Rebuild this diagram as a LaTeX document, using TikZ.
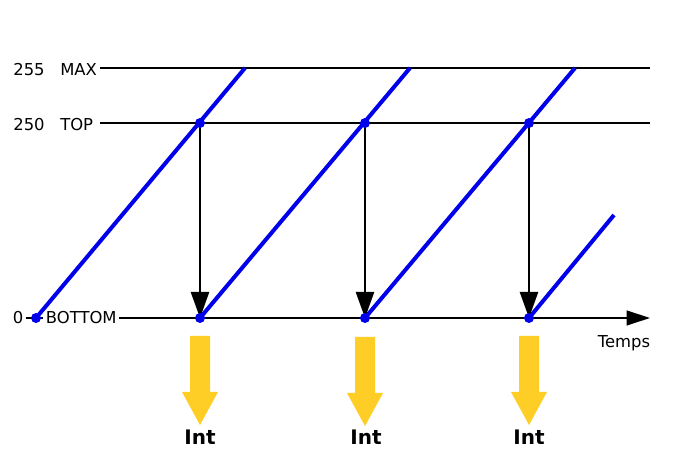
\documentclass[tikz,border=0pt]{standalone}
\usepackage{fontspec}
\setmainfont{DejaVu Sans}
\usetikzlibrary{arrows.meta}
\definecolor{rampblue}{RGB}{0,0,235}
\definecolor{intyellow}{RGB}{255,206,38}
\tikzset{
  lbl/.style={inner sep=0.75pt,font=\fontsize{12.3}{14}\selectfont},
  intlbl/.style={inner sep=0.75pt,font=\fontsize{15}{17}\selectfont\bfseries},
  level/.style={draw=black,line width=1.7pt},
  ramp/.style={draw=rampblue,line width=3pt},
  drop/.style={draw=black,line width=1.8pt,-{Triangle[length=19.5pt,width=13.5pt]}},
  dot/.style={circle,fill=rampblue,inner sep=0pt,minimum size=7.5pt}
}
\begin{document}
\begin{tikzpicture}[x=0.75pt,y=0.75pt,yscale=-1,xscale=1]
\useasboundingbox (0,0) rectangle (700,459);
% niveaux et axe du temps
\coordinate (max0) at (100,68);  \coordinate (max1) at (650,68);
\coordinate (top0) at (100,123); \coordinate (top1) at (650,123);
\coordinate (ax0) at (26,318);   \coordinate (ax1) at (650,318);
\draw [level] (max0) -- (max1);
\draw [level] (top0) -- (top1);
\draw [level,-{Triangle[length=17.5pt,width=11pt]}] (ax0) -- (ax1);
\node [lbl] (v255) at (29,70) {255};
\node [lbl,anchor=west] (lmax) at (59,70) {MAX};
\node [lbl] (v250) at (29,125) {250};
\node [lbl,anchor=west] (ltop) at (59,125) {TOP};
\node [lbl] (v0) at (18,318) {0};
\node [lbl,anchor=west,fill=white,inner xsep=2pt] (lbot) at (43,318) {BOTTOM};
\node [lbl] (temps) at (624,343) {Temps};
% compteur
\coordinate (b0) at (36,318);
\coordinate (t1) at (200,123); \coordinate (b1) at (200,318);
\coordinate (t2) at (365,123); \coordinate (b2) at (365,318);
\coordinate (t3) at (529,123); \coordinate (b3) at (529,318);
\coordinate (e1) at (245,68); \coordinate (e2) at (410,68);
\coordinate (e3) at (575,68); \coordinate (e4) at (614,215);
\draw [ramp] (b0) -- (e1);
\draw [ramp] (b1) -- (e2);
\draw [ramp] (b2) -- (e3);
\draw [ramp] (b3) -- (e4);
\draw [drop] (t1) -- (b1);
\draw [drop] (t2) -- (b2);
\draw [drop] (t3) -- (b3);
\node [dot] at (b0) {};
\node [dot] at (t1) {}; \node [dot] at (b1) {};
\node [dot] at (t2) {}; \node [dot] at (b2) {};
\node [dot] at (t3) {}; \node [dot] at (b3) {};
% interruptions
\fill [intyellow] (b1) ++(-10,18) -- ++(20,0) -- ++(0,56) -- ++(8,0) -- ++(-18,33) -- ++(-18,-33) -- ++(8,0) -- cycle;
\fill [intyellow] (b2) ++(-10,19) -- ++(20,0) -- ++(0,56) -- ++(8,0) -- ++(-18,33) -- ++(-18,-33) -- ++(8,0) -- cycle;
\fill [intyellow] (b3) ++(-10,18) -- ++(20,0) -- ++(0,56) -- ++(8,0) -- ++(-18,33) -- ++(-18,-33) -- ++(8,0) -- cycle;
\node [intlbl] (int1) at (200,437) {Int};
\node [intlbl] (int2) at (366,437) {Int};
\node [intlbl] (int3) at (529,437) {Int};
\end{tikzpicture}
\end{document}
